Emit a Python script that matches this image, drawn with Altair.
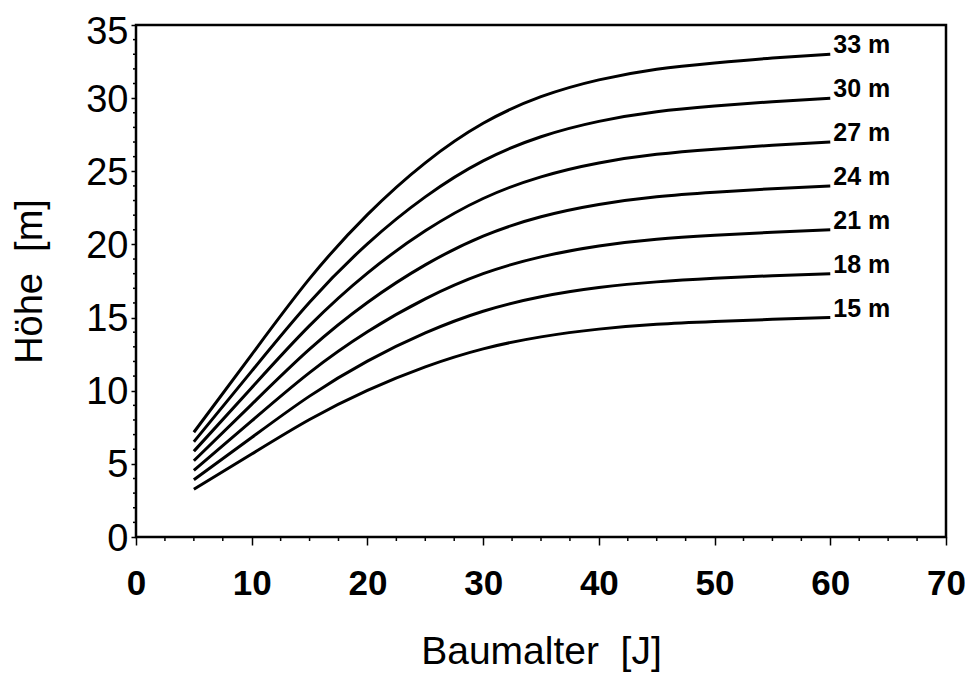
import altair as alt
import pandas as pd

# Tree age (years) at which heights were read
ages = [5, 10, 15, 20, 25, 30, 35, 40, 45, 50, 55, 60]

# Height (m) of each site-index curve
h33 = [7.16, 12.47, 17.66, 22.04, 25.58, 28.28, 30.10, 31.25, 31.98, 32.41, 32.74, 33.0]
h30 = [6.51, 11.34, 16.05, 20.04, 23.25, 25.71, 27.36, 28.41, 29.07, 29.46, 29.76, 30.0]
h27 = [5.86, 10.21, 14.45, 18.04, 20.93, 23.14, 24.62, 25.57, 26.16, 26.51, 26.78, 27.0]
h24 = [5.21, 9.07, 12.84, 16.03, 18.60, 20.57, 21.89, 22.73, 23.26, 23.57, 23.81, 24.0]
h21 = [4.56, 7.94, 11.24, 14.03, 16.28, 18.00, 19.15, 19.89, 20.35, 20.62, 20.83, 21.0]
h18 = [3.91, 6.80, 9.63, 12.02, 13.95, 15.43, 16.42, 17.05, 17.44, 17.68, 17.86, 18.0]
h15 = [3.26, 5.67, 8.03, 10.02, 11.63, 12.86, 13.68, 14.21, 14.54, 14.73, 14.88, 15.0]

labels = ["33 m", "30 m", "27 m", "24 m", "21 m", "18 m", "15 m"]
series = [h33, h30, h27, h24, h21, h18, h15]

# Axis tick positions
x_major = [0, 10, 20, 30, 40, 50, 60, 70]
x_minor = [2.5, 5, 7.5, 12.5, 15, 17.5, 22.5, 25, 27.5, 32.5, 35, 37.5, 42.5, 45,
           47.5, 52.5, 55, 57.5, 62.5, 65, 67.5]
y_major = [0, 5, 10, 15, 20, 25, 30, 35]
y_minor = [1, 2, 3, 4, 6, 7, 8, 9, 11, 12, 13, 14, 16, 17, 18, 19, 21, 22, 23, 24,
           26, 27, 28, 29, 31, 32, 33, 34]

rows = []
for lab, vals in zip(labels, series):
    for a, h in zip(ages, vals):
        rows.append({"age": a, "height": h, "site": lab})
df = pd.DataFrame(rows)

xminor_df = pd.DataFrame({"age": x_minor})
yminor_df = pd.DataFrame({"height": y_minor})

PLOT_W, PLOT_H = 810, 512

x_scale = alt.Scale(domain=[0, 70], nice=False, zero=False)
y_scale = alt.Scale(domain=[0, 35], nice=False, zero=False)

x_axis = alt.Axis(
    values=x_major,
    title="Baumalter\u00a0 [J]",
    tickSize=8,
    tickColor="black",
    tickWidth=1.5,
    domain=False,
    grid=False,
    labelFont="Liberation Sans",
    labelFontSize=35,
    labelFontWeight="bold",
    labelColor="black",
    labelPadding=21,
    labelFlush=False,
    labelOverlap=False,
    titleFont="Liberation Sans",
    titleFontSize=39,
    titleFontWeight="normal",
    titleColor="black",
    titleX=PLOT_W / 2,
    titleY=126,
    titleAlign="center",
    titleBaseline="alphabetic",
)

y_axis = alt.Axis(
    values=y_major,
    title="Höhe\u00a0 [m]",
    tickSize=5,
    tickColor="black",
    tickWidth=1.5,
    domain=False,
    grid=False,
    labelFont="Liberation Sans",
    labelFontSize=38,
    labelFontWeight="normal",
    labelColor="black",
    labelPadding=3,
    labelOffset={"condition": {"test": "datum.value === 35", "value": 7}, "value": 2},
    labelBaseline="middle",
    labelOverlap=False,
    labelFlush=False,
    titleFont="Liberation Sans",
    titleFontSize=38,
    titleFontWeight="normal",
    titleColor="black",
    titleAngle=270,
    titleX=-106,
    titleY=PLOT_H / 2,
    titleAlign="center",
    titleBaseline="middle",
)

x_enc = alt.X("age:Q", scale=x_scale, axis=x_axis)
y_enc = alt.Y("height:Q", scale=y_scale, axis=y_axis)

lines = alt.Chart(df).mark_line(
    color="black", strokeWidth=3, interpolate="natural"
).encode(x=x_enc, y=y_enc, detail="site:N")

end_labels = alt.Chart(df).transform_filter(
    alt.datum.age == ages[-1]
).mark_text(
    align="left", baseline="alphabetic", dx=3, dy=-1,
    font="Liberation Sans", fontSize=25, fontWeight="bold", color="black"
).encode(x=x_enc, y=y_enc, text="site:N")

x_minor_ticks = alt.Chart(xminor_df).mark_rule(color="black", strokeWidth=1.5).encode(
    x=x_enc,
    y=alt.value(PLOT_H),
    y2=alt.value(PLOT_H + 4),
)

y_minor_ticks = alt.Chart(yminor_df).mark_rule(color="black", strokeWidth=1.5).encode(
    y=y_enc,
    x=alt.value(0),
    x2=alt.value(-3),
)

chart = alt.layer(lines, end_labels, x_minor_ticks, y_minor_ticks).properties(
    width=PLOT_W,
    height=PLOT_H,
    autosize=alt.AutoSizeParams(type="none"),
    padding={"left": 128, "top": 17, "right": 19, "bottom": 138},
    background="white",
).configure_view(
    stroke="black", strokeWidth=2.5
)

chart.save("out.html", embed_options={"renderer": "svg", "actions": False})
